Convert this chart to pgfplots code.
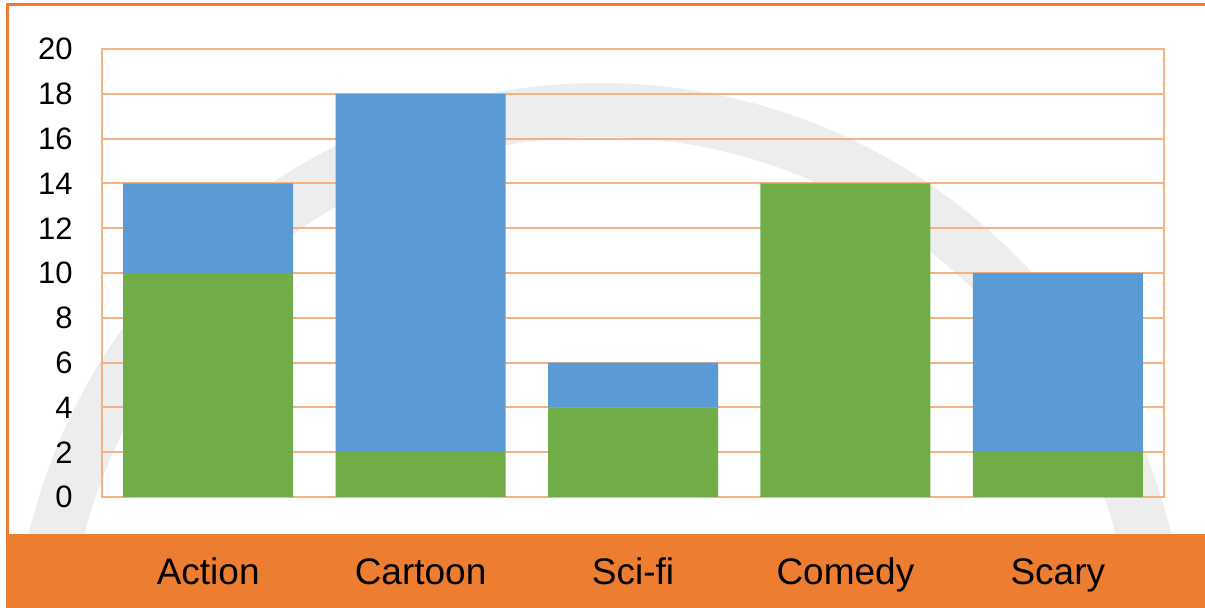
\documentclass[border=0pt]{standalone}
\usepackage{pgfplots}
\pgfplotsset{compat=1.18}
\usepackage{fontspec}
\setmainfont{Liberation Sans}
\definecolor{cgreen}{HTML}{70AD47}
\definecolor{cblue}{HTML}{5B9BD5}
\definecolor{corange}{HTML}{ED7D31}
\definecolor{cgrid}{HTML}{F4B183}
\begin{document}
\begin{tikzpicture}
\useasboundingbox (0,0) rectangle (602.5pt,304pt);
% watermark arc
\begin{scope}
\clip (3.5pt,37pt) rectangle (602.5pt,302pt);
\draw[line width=27pt, color=black!7] (300pt,-31pt) circle (280pt);
\end{scope}
% orange band and frame
\fill[corange] (3pt,0pt) rectangle (602.5pt,37pt);
\draw[corange, line width=1.5pt] (3.5pt,37pt) -- (3.5pt,301.5pt) -- (602.5pt,301.5pt);
\begin{axis}[
  at={(51pt,55.5pt)}, anchor=south west,
  scale only axis, width=531pt, height=224pt,
  ybar stacked, bar width=85pt,
  xmin=-0.5, xmax=4.5, ymin=0, ymax=20,
  xtick=data,
  xticklabels={Action,Cartoon,Sci-fi,Comedy,Scary},
  ytick={0,2,...,20},
  major tick length=0pt,
  ymajorgrids,
  grid style={cgrid, line width=1pt},
  axis line style={cgrid, line width=1pt},
  /pgf/number format/assume math mode=true,
  xticklabel style={anchor=base, yshift=-44pt, font=\fontsize{18.5}{22}\selectfont},
  yticklabel style={anchor=east, inner sep=0pt, xshift=-14.5pt, font=\fontsize{15.5}{18}\selectfont},
]
\addplot[fill=cgreen, draw=none] coordinates {(0,10) (1,2) (2,4) (3,14) (4,2)};
\addplot[fill=cblue, draw=none] coordinates {(0,4) (1,16) (2,2) (3,0) (4,8)};
\end{axis}
\end{tikzpicture}
\end{document}
